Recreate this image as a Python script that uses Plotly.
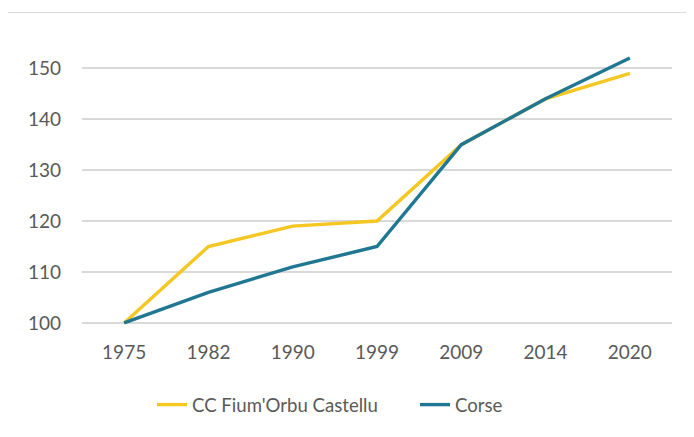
import plotly.graph_objects as go

years = ["1975", "1982", "1990", "1999", "2009", "2014", "2020"]
cc_fiumorbu = [100, 115, 119, 120, 135, 144, 149]
corse = [100, 106, 111, 115, 135, 144, 152]
series_names = ["CC Fium'Orbu Castellu", "Corse"]
y_ticks = [100, 110, 120, 130, 140, 150]

# the page adds an 8px body margin, so the figure is sized to fit the window
W, H = 686, 429
L, R, T, B = 74, 22, 45, 109

fig = go.Figure()
fig.add_trace(go.Scatter(x=years, y=cc_fiumorbu, mode="lines", name=series_names[0],
                         line=dict(color="#F5C723", width=3.4)))
fig.add_trace(go.Scatter(x=years, y=corse, mode="lines", name=series_names[1],
                         line=dict(color="#1F7791", width=3.4)))

pw = W - L - R
ph = H - T - B
def px_x(p):
    return (p - 8 - L) / pw
def px_y(p):
    return (H - B - (p - 8)) / ph

fig.update_layout(
    width=W, height=H,
    margin=dict(l=L, r=R, t=T, b=B, autoexpand=False),
    paper_bgcolor="white", plot_bgcolor="white",
    font=dict(family="Lato", color="#595959", size=19),
    showlegend=True,
    legend=dict(orientation="h", x=px_x(152), xanchor="left", y=px_y(386), yanchor="top",
                font=dict(size=18.6, color="#595959"), entrywidth=218, entrywidthmode="pixels",
                tracegroupgap=0),
    xaxis=dict(type="category", showgrid=False, zeroline=False, showline=False,
               ticks="", tickfont=dict(size=19, color="#595959"), range=[-0.5, 6.5],
               ticklabelstandoff=11),
    yaxis=dict(range=[99, 153], tickvals=y_ticks, showgrid=True, gridcolor="#D9D9D9",
               gridwidth=1.5, zeroline=False, showline=False, ticks="",
               tickfont=dict(size=19, color="#595959"), ticklabelstandoff=20),
    shapes=[dict(type="rect", xref="paper", yref="paper",
                 x0=px_x(4.5), x1=px_x(720), y0=px_y(460), y1=px_y(12.5),
                 line=dict(color="#D9D9D9", width=1), fillcolor="rgba(0,0,0,0)", layer="below")],
)

fig.write_html("out.html")
